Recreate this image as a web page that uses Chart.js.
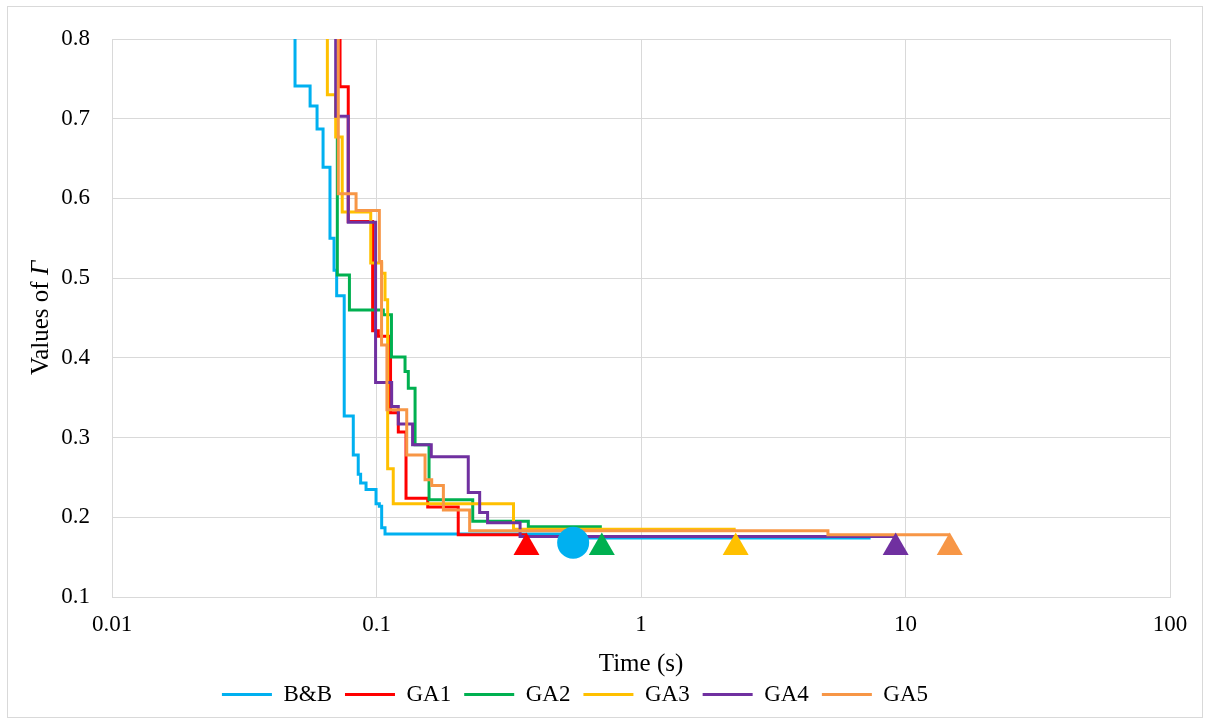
<!DOCTYPE html>
<html>
<head>
<meta charset="utf-8">
<script src="https://cdn.jsdelivr.net/npm/chart.js@4.4.0/dist/chart.umd.min.js"></script>
<style>
  html, body { margin: 0; padding: 0; background: #fff; }
</style>
</head>
<body>
<canvas id="gammaChart" width="1210" height="724"></canvas>
<script>
// Each run: time (s) of every improvement and the new value of Γ after it.
// First value sits above the axis so the line enters from the top.
const seriesNames = ['B&B', 'GA1', 'GA2', 'GA3', 'GA4', 'GA5'];
const seriesColors = ['#00b0f0', '#ff0000', '#00b050', '#ffc000', '#7030a0', '#f79646'];

const bbTime  = [0.0492, 0.0492, 0.0561, 0.0596, 0.0628, 0.0667, 0.0691, 0.0707, 0.0755, 0.0817, 0.0853, 0.0871, 0.0913, 0.0996, 0.1025, 0.1046, 0.1077, 0.55, 7.38];
const bbValue = [0.85, 0.741, 0.716, 0.687, 0.639, 0.550, 0.510, 0.478, 0.327, 0.278, 0.254, 0.243, 0.235, 0.217, 0.214, 0.187, 0.179, 0.174, 0.174];

const ga1Time  = [0.0728, 0.0728, 0.0782, 0.0967, 0.1016, 0.113, 0.1209, 0.1293, 0.1562, 0.2037, 0.369];
const ga1Value = [0.85, 0.740, 0.571, 0.434, 0.427, 0.331, 0.307, 0.224, 0.213, 0.178, 0.178];

const ga2Time  = [0.0711, 0.0711, 0.0790, 0.1061, 0.1139, 0.1282, 0.1319, 0.1399, 0.158, 0.2311, 0.375, 0.711];
const ga2Value = [0.85, 0.504, 0.460, 0.454, 0.401, 0.383, 0.362, 0.291, 0.222, 0.195, 0.188, 0.188];

const ga3Time  = [0.0652, 0.0652, 0.0701, 0.0742, 0.0951, 0.1046, 0.1077, 0.1102, 0.1157, 0.3296, 2.28];
const ga3Value = [0.85, 0.730, 0.677, 0.583, 0.519, 0.506, 0.473, 0.261, 0.217, 0.185, 0.185];

const ga4Time  = [0.0701, 0.0701, 0.0782, 0.0992, 0.1141, 0.1209, 0.1369, 0.1611, 0.2223, 0.2455, 0.263, 0.349, 9.18];
const ga4Value = [0.85, 0.703, 0.570, 0.369, 0.339, 0.317, 0.291, 0.276, 0.231, 0.206, 0.193, 0.176, 0.176];

const ga5Time  = [0.0717, 0.0717, 0.0837, 0.1025, 0.1045, 0.1095, 0.1301, 0.1526, 0.1617, 0.179, 0.225, 5.09, 14.7];
const ga5Value = [0.85, 0.606, 0.585, 0.521, 0.416, 0.335, 0.278, 0.247, 0.240, 0.209, 0.183, 0.178, 0.178];

// Final solution markers (B&B circle, GA triangles)
const markerTime  = [0.554, 0.369, 0.711, 2.28, 9.18, 14.7];
const markerValue = [0.168, 0.162, 0.162, 0.162, 0.162, 0.162];
const markerStyle = ['circle', 'triangle', 'triangle', 'triangle', 'triangle', 'triangle'];
const markerSize  = [16, 15, 15, 15, 15, 15];

const xTicks = [0.01, 0.1, 1, 10, 100];
const xTickLabels = ['0.01', '0.1', '1', '10', '100'];

const allTimes = [bbTime, ga1Time, ga2Time, ga3Time, ga4Time, ga5Time];
const allValues = [bbValue, ga1Value, ga2Value, ga3Value, ga4Value, ga5Value];

const gridColor = '#d9d9d9';
const serif = "'Liberation Serif', 'Times New Roman', serif";

Chart.defaults.font.family = serif;
Chart.defaults.color = '#000';

// light frame around the whole chart, like the spreadsheet chart area
const chartFrame = {
    id: 'chartFrame',
    beforeDraw(chart) {
        const ctx = chart.ctx;
        ctx.save();
        ctx.fillStyle = '#fff';
        ctx.fillRect(0, 0, chart.width, chart.height);
        ctx.strokeStyle = gridColor;
        ctx.lineWidth = 1;
        ctx.strokeRect(7.5, 6.5, chart.width - 15, chart.height - 13);
        ctx.restore();
    }
};

// legend in the original is a bit left of centre
const legendShift = {
    id: 'legendShift',
    afterLayout(chart) {
        chart.legend.left -= 20;
        chart.legend.right -= 20;
    }
};

// y title with an italic Gamma, which the built-in title can't mix
const yTitle = {
    id: 'yTitle',
    afterDraw(chart) {
        const ctx = chart.ctx;
        const area = chart.chartArea;
        const plain = 'Values of ';
        const greek = 'Γ';
        ctx.save();
        ctx.translate(41, (area.top + area.bottom) / 2);
        ctx.rotate(-Math.PI / 2);
        ctx.textBaseline = 'middle';
        ctx.fillStyle = '#000';
        ctx.font = '25px ' + serif;
        const w1 = ctx.measureText(plain).width;
        ctx.font = 'italic 25px ' + serif;
        const w2 = ctx.measureText(greek).width;
        const x0 = -(w1 + w2) / 2;
        ctx.font = '25px ' + serif;
        ctx.fillText(plain, x0, 0);
        ctx.font = 'italic 25px ' + serif;
        ctx.fillText(greek, x0 + w1, 0);
        ctx.restore();
    }
};

const datasets = seriesNames.map((name, i) => ({
    label: name,
    data: allTimes[i].map((t, j) => ({ x: t, y: allValues[i][j] })),
    borderColor: seriesColors[i],
    backgroundColor: seriesColors[i],
    borderWidth: 3,
    pointRadius: 0,
    stepped: true,
    order: seriesNames.length - i
}));

datasets.push({
    label: 'markers',
    data: markerTime.map((t, j) => ({ x: t, y: markerValue[j] })),
    showLine: false,
    pointStyle: markerStyle,
    pointRadius: markerSize,
    pointBackgroundColor: seriesColors,
    pointBorderColor: seriesColors,
    pointBorderWidth: 0,
    order: 0
});

new Chart(document.getElementById('gammaChart'), {
    type: 'line',
    data: { datasets: datasets },
    plugins: [chartFrame, legendShift, yTitle],
    options: {
        responsive: false,
        animation: false,
        layout: {
            padding: { top: 39, right: 40, bottom: 8, left: 20 }
        },
        plugins: {
            legend: {
                position: 'bottom',
                labels: {
                    filter: item => item.datasetIndex < seriesNames.length,
                    sort: (a, b) => a.datasetIndex - b.datasetIndex,
                    boxWidth: 50,
                    boxHeight: 0,
                    padding: 13,
                    font: { size: 23 }
                }
            },
            tooltip: { enabled: false }
        },
        scales: {
            x: {
                type: 'logarithmic',
                min: 0.01,
                max: 100,
                afterBuildTicks: scale => {
                    scale.ticks = xTicks.map(v => ({ value: v }));
                },
                afterFit: scale => {
                    scale.height = 73;
                },
                ticks: {
                    padding: 14,
                    font: { size: 23 },
                    callback: function(value) {
                        const k = xTicks.indexOf(value);
                        return k >= 0 ? xTickLabels[k] : '';
                    }
                },
                grid: { color: gridColor, drawTicks: false },
                border: { color: gridColor },
                title: {
                    display: true,
                    text: 'Time (s)',
                    font: { size: 25, lineHeight: 1 },
                    padding: { top: 8, bottom: -7 }
                }
            },
            y: {
                min: 0.1,
                max: 0.8,
                afterFit: scale => {
                    scale.width = 92;
                },
                ticks: {
                    stepSize: 0.1,
                    padding: 22,
                    font: { size: 23 },
                    callback: v => v.toFixed(1)
                },
                grid: { color: gridColor, drawTicks: false },
                border: { color: gridColor },
                title: { display: false }
            }
        }
    }
});
</script>
</body>
</html>
